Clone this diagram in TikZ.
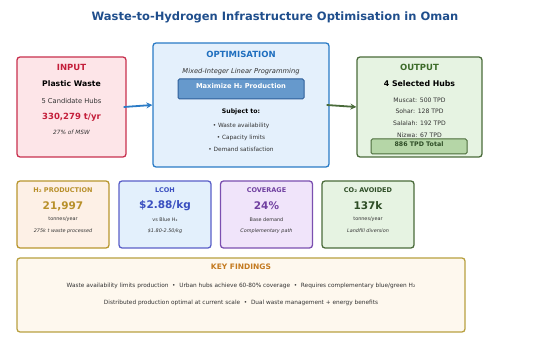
\documentclass[tikz,border=0pt]{standalone}
\usepackage{fontspec}
\setmainfont{DejaVu Sans}
\usetikzlibrary{arrows.meta}
\definecolor{titleblue}{HTML}{1F4E8C}
\definecolor{inpfill}{HTML}{FDE5E8}
\definecolor{inpdraw}{HTML}{C8304E}
\definecolor{inptext}{HTML}{C41E3A}
\definecolor{optfill}{HTML}{E4F0FC}
\definecolor{optdraw}{HTML}{2A7BC6}
\definecolor{opttext}{HTML}{1F6FBF}
\definecolor{maxfill}{HTML}{6699CC}
\definecolor{maxdraw}{HTML}{2F5F9A}
\definecolor{outfill}{HTML}{E6F3E2}
\definecolor{outdraw}{HTML}{4A6B3A}
\definecolor{outtext}{HTML}{3D6B2A}
\definecolor{totfill}{HTML}{B5D6A7}
\definecolor{hfill}{HTML}{FDF0E6}
\definecolor{hdraw}{HTML}{B8962E}
\definecolor{htext}{HTML}{B8902A}
\definecolor{lfill}{HTML}{E3F0FC}
\definecolor{ldraw}{HTML}{5A5FC8}
\definecolor{ltext}{HTML}{3A4FC0}
\definecolor{cfill}{HTML}{F0E4FA}
\definecolor{cdraw}{HTML}{7B4FB0}
\definecolor{ctext}{HTML}{7040A0}
\definecolor{cotext}{HTML}{2E4D26}
\definecolor{kfill}{HTML}{FEF8EE}
\definecolor{kdraw}{HTML}{B8A040}
\definecolor{ktext}{HTML}{C47A20}
\definecolor{bodytext}{HTML}{333333}
\tikzset{
  box/.style={rectangle, rounded corners=3pt, line width=1.3pt, inner sep=0pt},
  lbl/.style={inner sep=0pt, anchor=center},
  flowarrow/.style={line width=1.8pt, -{Stealth[length=6pt,width=6pt]}}
}
\begin{document}
\begin{tikzpicture}[x=1pt,y=-1pt]
\useasboundingbox (0,0) rectangle (550,342);
% title
\node[lbl, font=\bfseries\fontsize{11.5}{13}\selectfont, text=titleblue] (title) at (275,17) {Waste-to-Hydrogen Infrastructure Optimisation in Oman};

% INPUT
\node[box, draw=inpdraw, fill=inpfill, minimum width=109pt, minimum height=100pt] (inp) at (71.5,107) {};
\node[lbl, font=\bfseries\fontsize{8.5}{10}\selectfont, text=inptext] (inpT) at (71.5,67) {INPUT};
\node[lbl, font=\bfseries\fontsize{7.7}{9}\selectfont] (inpA) at (71.5,84) {Plastic Waste};
\node[lbl, font=\fontsize{6.7}{8}\selectfont, text=bodytext] (inpB) at (71.5,101) {5 Candidate Hubs};
\node[lbl, font=\bfseries\fontsize{8.5}{10}\selectfont, text=inptext] (inpC) at (71.5,117.5) {330,279 t/yr};
\node[lbl, font=\itshape\fontsize{5.8}{7}\selectfont, text=bodytext] (inpD) at (71.5,132) {27\% of MSW};

% OPTIMISATION
\node[box, draw=optdraw, fill=optfill, minimum width=176pt, minimum height=124pt] (opt) at (241,105) {};
\node[lbl, font=\bfseries\fontsize{8.5}{10}\selectfont, text=opttext] (optT) at (241,54) {OPTIMISATION};
\node[lbl, font=\itshape\fontsize{6.7}{8}\selectfont, text=bodytext] (optA) at (241,72) {Mixed-Integer Linear Programming};
\node[box, line width=1pt, rounded corners=1.5pt, draw=maxdraw, fill=maxfill, minimum width=126pt, minimum height=20pt] (max) at (241,89) {};
\node[lbl, font=\bfseries\fontsize{6.7}{8}\selectfont, text=white] (maxT) at (241,86.5) {Maximize H₂ Production};
\node[lbl, font=\bfseries\fontsize{6.2}{7}\selectfont] (optB) at (241,112) {Subject to:};
\node[lbl, font=\fontsize{5.8}{7}\selectfont, text=bodytext] (optC) at (241,126) {• Waste availability};
\node[lbl, font=\fontsize{5.8}{7}\selectfont, text=bodytext] (optD) at (241,137.5) {• Capacity limits};
\node[lbl, font=\fontsize{5.8}{7}\selectfont, text=bodytext] (optE) at (241,149) {• Demand satisfaction};

% OUTPUT
\node[box, draw=outdraw, fill=outfill, minimum width=125pt, minimum height=100pt] (out) at (419.5,107) {};
\node[lbl, font=\bfseries\fontsize{8.5}{10}\selectfont, text=outtext] (outT) at (419.5,67) {OUTPUT};
\node[lbl, font=\bfseries\fontsize{7.8}{9}\selectfont] (outA) at (419.5,84) {4 Selected Hubs};
\node[lbl, font=\fontsize{6.1}{7}\selectfont, text=bodytext] (outB) at (419.5,100) {Muscat: 500 TPD};
\node[lbl, font=\fontsize{6.1}{7}\selectfont, text=bodytext] (outC) at (419.5,111.5) {Sohar: 128 TPD};
\node[lbl, font=\fontsize{6.1}{7}\selectfont, text=bodytext] (outD) at (419.5,123.5) {Salalah: 192 TPD};
\node[lbl, font=\fontsize{6.1}{7}\selectfont, text=bodytext] (outE) at (419.5,135) {Nizwa: 67 TPD};
\node[box, line width=1pt, rounded corners=1.5pt, draw=outdraw, fill=totfill, minimum width=96pt, minimum height=15pt] (tot) at (419,146.5) {};
\node[lbl, font=\bfseries\fontsize{6.3}{7}\selectfont, text=cotext] (totT) at (419,144) {886 TPD Total};

% arrows
\draw[flowarrow, draw=optdraw] ([xshift=-3pt]inp.east) -- (opt.west);
\draw[flowarrow, draw=outdraw] ([xshift=-3pt]opt.east) -- (out.west);

% metric boxes
\node[box, draw=hdraw, fill=hfill, minimum width=92pt, minimum height=67pt] (h2) at (63,214.5) {};
\node[lbl, font=\bfseries\fontsize{6.5}{7}\selectfont, text=htext] (h2T) at (63,190) {H₂ PRODUCTION};
\node[lbl, font=\bfseries\fontsize{10.5}{12}\selectfont, text=htext] (h2A) at (63,206) {21,997};
\node[lbl, font=\fontsize{4.9}{6}\selectfont, text=bodytext] (h2B) at (63,219.5) {tonnes/year};
\node[lbl, font=\itshape\fontsize{4.9}{6}\selectfont, text=bodytext] (h2C) at (63,231) {275k t waste processed};

\node[box, draw=ldraw, fill=lfill, minimum width=92pt, minimum height=67pt] (lc) at (165,214.5) {};
\node[lbl, font=\bfseries\fontsize{6.5}{7}\selectfont, text=ltext] (lcT) at (165,190) {LCOH};
\node[lbl, font=\bfseries\fontsize{10.5}{12}\selectfont, text=ltext] (lcA) at (165,206) {\$2.88/kg};
\node[lbl, font=\fontsize{4.9}{6}\selectfont, text=bodytext] (lcB) at (165,219.5) {vs Blue H₂};
\node[lbl, font=\itshape\fontsize{4.9}{6}\selectfont, text=bodytext] (lcC) at (165,231) {\$1.80-2.50/kg};

\node[box, draw=cdraw, fill=cfill, minimum width=92pt, minimum height=67pt] (cv) at (266.5,214.5) {};
\node[lbl, font=\bfseries\fontsize{6.5}{7}\selectfont, text=ctext] (cvT) at (266.5,190) {COVERAGE};
\node[lbl, font=\bfseries\fontsize{10.5}{12}\selectfont, text=ctext] (cvA) at (266.5,206) {24\%};
\node[lbl, font=\fontsize{4.9}{6}\selectfont, text=bodytext] (cvB) at (266.5,219.5) {Base demand};
\node[lbl, font=\itshape\fontsize{4.9}{6}\selectfont, text=bodytext] (cvC) at (266.5,231) {Complementary path};

\node[box, draw=outdraw, fill=outfill, minimum width=92pt, minimum height=67pt] (co) at (368,214.5) {};
\node[lbl, font=\bfseries\fontsize{6.5}{7}\selectfont, text=cotext] (coT) at (368,190) {CO₂ AVOIDED};
\node[lbl, font=\bfseries\fontsize{10.5}{12}\selectfont, text=cotext] (coA) at (368,206) {137k};
\node[lbl, font=\fontsize{4.9}{6}\selectfont, text=bodytext] (coB) at (368,219.5) {tonnes/year};
\node[lbl, font=\itshape\fontsize{4.9}{6}\selectfont, text=bodytext] (coC) at (368,231) {Landfill diversion};

% key findings
\node[box, draw=kdraw, fill=kfill, minimum width=448pt, minimum height=74pt] (kf) at (241,295) {};
\node[lbl, font=\bfseries\fontsize{7.5}{9}\selectfont, text=ktext] (kfT) at (241,267) {KEY FINDINGS};
\node[lbl, font=\fontsize{5.8}{7}\selectfont, text=bodytext] (kfA) at (241,286) {Waste availability limits production \ • \ Urban hubs achieve 60-80\% coverage \ • \ Requires complementary blue/green H₂};
\node[lbl, font=\fontsize{5.8}{7}\selectfont, text=bodytext] (kfB) at (241,303) {Distributed production optimal at current scale \ • \ Dual waste management + energy benefits};
\end{tikzpicture}
\end{document}
